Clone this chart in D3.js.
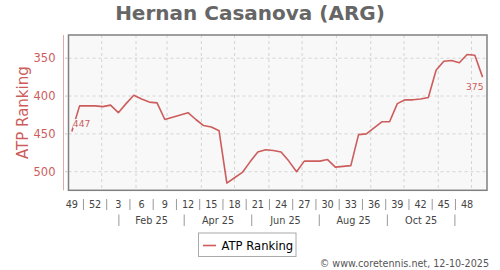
<!DOCTYPE html>
<html>
<head>
<meta charset="utf-8">
<script src="https://cdn.jsdelivr.net/npm/d3@7"></script>
<style>
  body { margin: 0; background: #fff; }
  svg { display: block; font-family: "DejaVu Sans", sans-serif; }
</style>
</head>
<body>
<svg id="chart"></svg>
<script>
// Data
const firstWeek = "2024-12-05"; // one point per week from here
const ranks = [
  447, 413, 413, 413, 414, 412, 422, 410, 399, 404,
  408, 409, 431, 428, 425, 422, 431, 439, 441, 446,
  515, 508, 501, 487, 474, 471, 472, 474, 486, 500,
  486, 486, 486, 484, 494, 493, 492, 451, 450, 442,
  434, 434, 410, 405, 405, 404, 402, 366, 354, 353,
  356, 345, 346, 375,
];
const yTicks = [350, 400, 450, 500];
const weekLabels = ["49", "52", "3", "6", "9", "12", "15", "18", "21", "24",
  "27", "30", "33", "36", "39", "42", "45", "48"];
const monthLabels = ["Feb 25", "Apr 25", "Jun 25", "Aug 25", "Oct 25"];
const monthLabelStarts = ["2025-02", "2025-04", "2025-06", "2025-08", "2025-10"];
const monthSeparatorStarts = ["2025-01", "2025-03", "2025-05", "2025-07", "2025-09", "2025-11"];

// Layout
const W = 500, H = 270;
const plot = { left: 68.5, right: 487, top: 35, bottom: 190.3 };
const red = "#cd5c5c";
const plotBg = "#f8f8f8";

const parseDay = d3.utcParse("%Y-%m-%d");
const parseMonth = d3.utcParse("%Y-%m");
const midMonth = (m) => new Date((+m + +d3.utcMonth.offset(m, 1)) / 2);

const start = parseDay(firstWeek);
const data = ranks.map((r, i) => ({ date: d3.utcWeek.offset(start, i), rank: r }));

const svg = d3.select("#chart").attr("width", W).attr("height", H);

const x = d3.scaleUtc()
  .domain([parseDay("2024-12-02"), parseDay("2025-12-15")])
  .range([plot.left, plot.right]);
const y = d3.scaleLinear().domain([319.3, 524.6]).range([plot.top, plot.bottom]);

// Title
svg.append("text")
  .attr("x", 250).attr("y", 20)
  .attr("text-anchor", "middle")
  .attr("font-size", 20).attr("font-weight", "bold")
  .attr("fill", "#666")
  .text("Hernan Casanova (ARG)");

// Plot background
svg.append("rect")
  .attr("x", plot.left).attr("y", plot.top)
  .attr("width", plot.right - plot.left).attr("height", plot.bottom - plot.top)
  .attr("fill", plotBg);

// Grid lines
const grid = svg.append("g").attr("stroke", "#d4d4d4").attr("stroke-dasharray", "3,3");
grid.selectAll(".vg")
  .data(d3.utcMonth.range(parseDay("2025-01-01"), parseDay("2025-12-02")))
  .join("line")
  .attr("x1", (d) => x(d)).attr("x2", (d) => x(d))
  .attr("y1", plot.top).attr("y2", plot.bottom);
grid.selectAll(".hg")
  .data(yTicks)
  .join("line")
  .attr("x1", plot.left).attr("x2", plot.right)
  .attr("y1", (d) => y(d)).attr("y2", (d) => y(d));

// Ranking line
const line = d3.line().x((d) => x(d.date)).y((d) => y(d.rank));
svg.append("path")
  .datum(data)
  .attr("fill", "none")
  .attr("stroke", red)
  .attr("stroke-width", 1.6)
  .attr("stroke-linejoin", "round")
  .attr("d", line);

// End point labels (drawn with a plot-coloured box, as in the original)
function pointLabel(d, anchor, dx, dy) {
  const g = svg.append("g");
  const rect = g.append("rect").attr("fill", plotBg);
  const t = g.append("text")
    .attr("x", x(d.date) + dx).attr("y", y(d.rank) + dy)
    .attr("text-anchor", anchor)
    .attr("font-size", 9.2)
    .attr("fill", red)
    .text(d.rank);
  const bb = t.node().getBBox();
  rect.attr("x", bb.x).attr("y", bb.y + 1).attr("width", bb.width).attr("height", bb.height - 2);
}
pointLabel(data[0], "start", 1, -4.5);
pointLabel(data[data.length - 1], "end", 1, 12.5);

// Plot border
svg.append("rect")
  .attr("x", plot.left).attr("y", plot.top)
  .attr("width", plot.right - plot.left).attr("height", plot.bottom - plot.top)
  .attr("fill", "none")
  .attr("stroke", "#808080")
  .attr("stroke-width", 1.5);

// Y axis (offset to the left of the plot)
svg.append("line")
  .attr("x1", 63.5).attr("x2", 63.5)
  .attr("y1", plot.top).attr("y2", plot.bottom)
  .attr("stroke", "#e4a8a8");
svg.selectAll(".ytick")
  .data(yTicks)
  .join("line")
  .attr("x1", 65).attr("x2", 67.5)
  .attr("y1", (d) => y(d)).attr("y2", (d) => y(d))
  .attr("stroke", "#c8c8c8");
svg.selectAll(".ylabel")
  .data(yTicks)
  .join("text")
  .attr("x", 55.5).attr("y", (d) => y(d))
  .attr("dy", "0.36em")
  .attr("text-anchor", "end")
  .attr("font-size", 11.5)
  .attr("fill", red)
  .text((d) => d);
svg.append("text")
  .attr("transform", `translate(27.7,${(plot.top + plot.bottom) / 2}) rotate(-90)`)
  .attr("text-anchor", "middle")
  .attr("font-size", 15)
  .attr("fill", red)
  .text("ATP Ranking");

// X axis: week band
const weekDates = weekLabels.map((w, i) => d3.utcWeek.offset(start, i * 3));
svg.selectAll(".wlabel")
  .data(weekLabels)
  .join("text")
  .attr("x", (d, i) => x(weekDates[i])).attr("y", 208)
  .attr("text-anchor", "middle")
  .attr("font-size", 9.7)
  .attr("fill", "#444")
  .text((d) => d);
svg.selectAll(".wsep")
  .data(weekDates.slice(0, -1))
  .join("line")
  .attr("x1", (d) => x(d3.utcHour.offset(d, 252)))
  .attr("x2", (d) => x(d3.utcHour.offset(d, 252)))
  .attr("y1", 199).attr("y2", 210)
  .attr("stroke", "#999");

// X axis: month band
svg.selectAll(".mlabel")
  .data(monthLabels)
  .join("text")
  .attr("x", (d, i) => x(midMonth(parseMonth(monthLabelStarts[i])))).attr("y", 224)
  .attr("text-anchor", "middle")
  .attr("font-size", 9.7)
  .attr("fill", "#444")
  .text((d) => d);
svg.selectAll(".msep")
  .data(monthSeparatorStarts.map((m) => midMonth(parseMonth(m))))
  .join("line")
  .attr("x1", (d) => x(d)).attr("x2", (d) => x(d))
  .attr("y1", 214.5).attr("y2", 226)
  .attr("stroke", "#999");

// Legend
const legend = svg.append("g");
legend.append("rect")
  .attr("x", 198.5).attr("y", 233)
  .attr("width", 97.5).attr("height", 23.5)
  .attr("fill", "#fff")
  .attr("stroke", "#aaa");
legend.append("line")
  .attr("x1", 203).attr("x2", 216)
  .attr("y1", 245.5).attr("y2", 245.5)
  .attr("stroke", red).attr("stroke-width", 1.6);
legend.append("text")
  .attr("x", 221.5).attr("y", 249.5)
  .attr("font-size", 11.6)
  .attr("fill", "#000")
  .text("ATP Ranking");

// Source note
svg.append("text")
  .attr("x", 489).attr("y", 267)
  .attr("text-anchor", "end")
  .attr("font-size", 9.6)
  .attr("fill", "#555")
  .text("© www.coretennis.net, 12-10-2025");
</script>
</body>
</html>
